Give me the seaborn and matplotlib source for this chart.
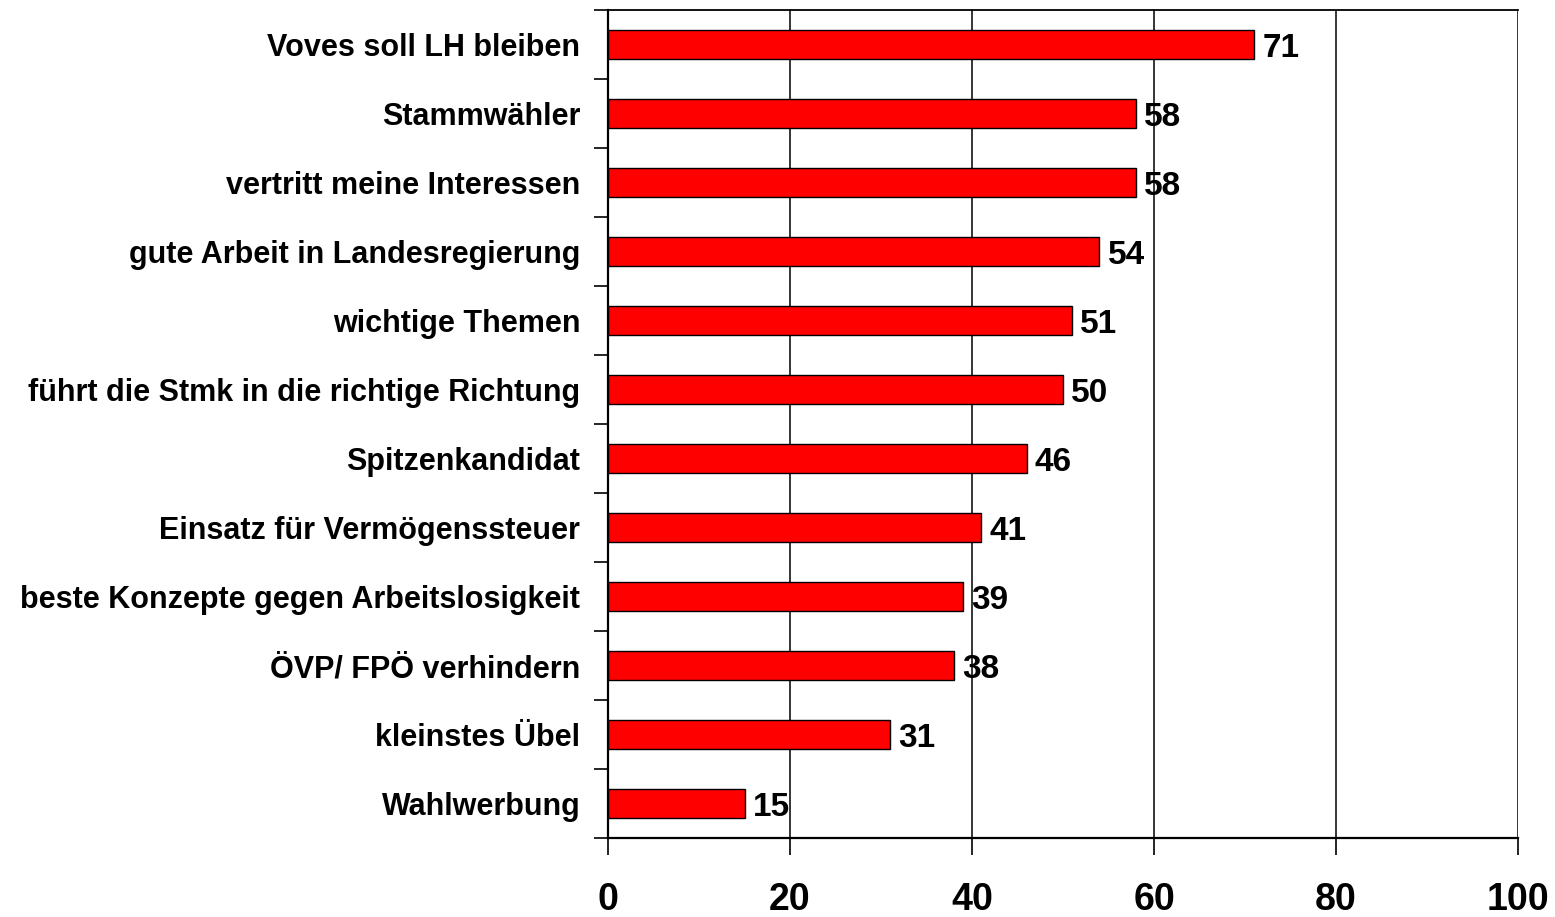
import matplotlib
matplotlib.use("Agg")
import matplotlib.pyplot as plt
import seaborn as sns
import pandas as pd
import numpy as np
from matplotlib.ticker import FixedLocator

categories = [
    "Voves soll LH bleiben",
    "Stammwähler",
    "vertritt meine Interessen",
    "gute Arbeit in Landesregierung",
    "wichtige Themen",
    "führt die Stmk in die richtige Richtung",
    "Spitzenkandidat",
    "Einsatz für Vermögenssteuer",
    "beste Konzepte gegen Arbeitslosigkeit",
    "ÖVP/ FPÖ verhindern",
    "kleinstes Übel",
    "Wahlwerbung",
]
values = [71, 58, 58, 54, 51, 50, 46, 41, 39, 38, 31, 15]
xticks = [0, 20, 40, 60, 80, 100]

sns.set_theme(style="white")
plt.rcParams['font.family'] = ['Liberation Sans', 'DejaVu Sans']
plt.rcParams['text.color'] = 'black'
plt.rcParams['xtick.color'] = 'black'
plt.rcParams['ytick.color'] = 'black'
plt.rcParams['xtick.labelcolor'] = 'black'
plt.rcParams['ytick.labelcolor'] = 'black'

df = pd.DataFrame({"cat": categories, "val": values})

fig = plt.figure(figsize=(15.55, 9.17), dpi=100)
ax = fig.add_axes([608/1555, 1-838/917, (1518-608)/1555, (838-10)/917])

sns.barplot(data=df, x="val", y="cat", orient="h", color="#ff0000",
            saturation=1, edgecolor="black", linewidth=1.0, width=0.42, ax=ax)

ax.set_xlim(0, 100)
ax.set_ylim(len(categories)-0.5, -0.5)
ax.set_xlabel("")
ax.set_ylabel("")

ax.set_xticks(xticks)
ax.set_xticklabels([str(t) for t in xticks], fontsize=27, fontweight="bold", color="black")
ax.tick_params(axis="x", direction="out", length=12, width=1.2, color="black", pad=20, bottom=True)

ax.set_yticks(range(len(categories)))
ax.set_yticklabels(categories, fontsize=22, fontweight="bold", color="black")
ax.tick_params(axis="y", which="major", length=0, pad=20, left=True)
ax.yaxis.set_minor_locator(FixedLocator(np.arange(-0.5, len(categories), 1.0)))
ax.tick_params(axis="y", which="minor", direction="out", length=10, width=1.2, color="black", left=True)

ax.grid(False)
for t in xticks[1:]:
    ax.axvline(t, color="black", linewidth=1.1, zorder=0)

for s in ["left", "bottom", "top"]:
    ax.spines[s].set_visible(True)
    ax.spines[s].set_color("black")
    ax.spines[s].set_linewidth(1.6)
ax.spines["right"].set_visible(False)
ax.spines["top"].set_linewidth(1.3)

for i, v in enumerate(values):
    ax.text(v + 0.9, i, str(v), va="center_baseline", ha="left", fontsize=24, fontweight="bold", color="black")

fig.savefig("out.png", dpi=100)
